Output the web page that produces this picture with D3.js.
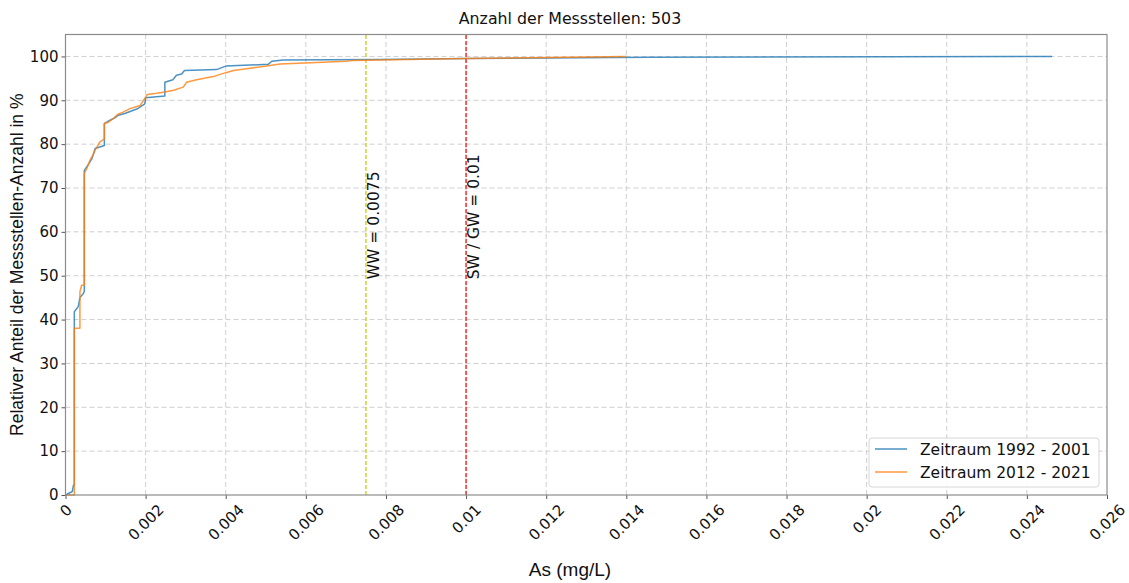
<!DOCTYPE html>
<html>
<head>
<meta charset="utf-8">
<script src="https://cdn.jsdelivr.net/npm/d3@7"></script>
<style>
  body { margin: 0; background: #fff; }
  svg { display: block; }
</style>
</head>
<body>
<div id="chart"></div>
<script>
// series: As concentration (mg/L) vs cumulative share (%)
const blueX = [0, 0.00017, 0.0002, 0.00022, 0.00022, 0.00032, 0.00036, 0.00045, 0.00047, 0.00047,
  0.00058, 0.00066, 0.0007, 0.00074, 0.00097, 0.00097, 0.0011, 0.00123, 0.00132, 0.00148, 0.00178,
  0.00198, 0.002, 0.00248, 0.00248, 0.00268, 0.00277, 0.0029, 0.00297, 0.00377, 0.004, 0.00506,
  0.00515, 0.00543, 0.00785, 0.01, 0.0146, 0.02463];
const blueY = [0, 0.8, 2.3, 2.3, 41.8, 43, 45, 46, 46.5, 74,
  75.5, 76.7, 77.8, 79, 79.7, 84.7, 85.4, 86, 86.6, 87, 88,
  89.2, 90.6, 91.0, 94.1, 94.7, 95.7, 96, 96.8, 97, 97.8, 98.2,
  98.9, 99.2, 99.3, 99.5, 99.8, 100];

const orangeX = [0, 0.00022, 0.00022, 0.00036, 0.00036, 0.0004, 0.00047, 0.00047, 0.00053, 0.00061,
  0.0007, 0.00076, 0.00086, 0.00097, 0.00097, 0.00107, 0.0012, 0.00132, 0.00144, 0.00161,
  0.00186, 0.00198, 0.00204, 0.00228, 0.00248, 0.0027, 0.00294, 0.00302, 0.00327, 0.00369,
  0.004, 0.00419, 0.00452, 0.00506, 0.00536, 0.00702, 0.00718, 0.0078, 0.01, 0.014];
const orangeY = [0, 0, 38, 38, 46.3, 47.8, 47.8, 73.3, 74.4, 76.3,
  77.8, 79, 80.5, 81.2, 84.7, 85, 85.9, 86.9, 87.3, 88.1,
  88.8, 90.4, 91.3, 91.6, 91.9, 92.3, 93, 94.1, 94.7, 95.4,
  96.3, 96.8, 97.2, 97.9, 98.3, 98.9, 99.1, 99.2, 99.5, 100];

const seriesNames = ["Zeitraum 1992 - 2001", "Zeitraum 2012 - 2021"];
const xTicks = [0, 0.002, 0.004, 0.006, 0.008, 0.01, 0.012, 0.014, 0.016, 0.018, 0.02, 0.022, 0.024, 0.026];
const xTickLabels = ["0", "0.002", "0.004", "0.006", "0.008", "0.01", "0.012", "0.014", "0.016", "0.018", "0.02", "0.022", "0.024", "0.026"];
const yTicks = [0, 10, 20, 30, 40, 50, 60, 70, 80, 90, 100];
const limitValues = [0.0075, 0.01];
const limitLabels = ["WW = 0.0075", "SW / GW = 0.01"];

const width = 1129;
const height = 583;
const margin = { top: 34.5, right: 22, bottom: 88, left: 65.5 };
const tickFont = "'DejaVu Sans', sans-serif";

const svg = d3.select("#chart")
  .append("svg")
  .attr("width", width)
  .attr("height", height);

const x = d3.scaleLinear()
  .domain([0, 0.026])
  .range([margin.left, width - margin.right]);

const y = d3.scaleLinear()
  .domain([0, 105])
  .range([height - margin.bottom, margin.top]);

// grid
const grid = svg.append("g")
  .attr("stroke", "#cfcfcf")
  .attr("stroke-width", 1)
  .attr("stroke-dasharray", "5,3");

grid.selectAll(".gx")
  .data(xTicks.slice(1, -1))
  .join("line")
  .attr("x1", d => x(d)).attr("x2", d => x(d))
  .attr("y1", y(0)).attr("y2", y(105));

grid.selectAll(".gy")
  .data(yTicks.slice(1))
  .join("line")
  .attr("x1", x(0)).attr("x2", x(0.026))
  .attr("y1", d => y(d)).attr("y2", d => y(d));

// limit lines
const limitColors = ["#d2d22a", "#f23030"];
svg.selectAll(".limit")
  .data(limitValues)
  .join("line")
  .attr("x1", d => x(d)).attr("x2", d => x(d))
  .attr("y1", y(0)).attr("y2", y(105))
  .attr("stroke", (d, i) => limitColors[i])
  .attr("stroke-width", 1.5)
  .attr("stroke-dasharray", "4,2");

svg.selectAll(".limitLabel")
  .data(limitValues)
  .join("text")
  .attr("transform", d => `translate(${x(d) + 13},${y(50) + 3.5}) rotate(-90)`)
  .attr("font-family", tickFont)
  .attr("font-size", 15.5)
  .attr("fill", "#111")
  .text((d, i) => limitLabels[i]);

// series
const colors = ["#1f77b4", "#ff7f0e"];
const line = d3.line()
  .x(d => x(d[0]))
  .y(d => y(d[1]));

const series = [
  blueX.map((v, i) => [v, blueY[i]]),
  orangeX.map((v, i) => [v, orangeY[i]])
];

svg.selectAll(".series")
  .data(series)
  .join("path")
  .attr("fill", "none")
  .attr("stroke", (d, i) => colors[i])
  .attr("stroke-opacity", 0.8)
  .attr("stroke-width", 1.5)
  .attr("stroke-linejoin", "round")
  .attr("d", line);

// axes
const yAxis = svg.append("g")
  .attr("transform", `translate(${margin.left},0)`)
  .call(d3.axisLeft(y).tickValues(yTicks).tickSize(4).tickPadding(3));

const xAxis = svg.append("g")
  .attr("transform", `translate(0,${y(0)})`)
  .call(d3.axisBottom(x).tickValues(xTicks).tickFormat((d, i) => xTickLabels[i]).tickSize(4).tickPadding(3));

[xAxis, yAxis].forEach(g => {
  g.select(".domain").remove();
  g.selectAll(".tick line").attr("stroke", "#555");
  g.selectAll("text")
    .attr("font-family", tickFont)
    .attr("font-size", 15)
    .attr("fill", "#111");
});

// rotate x labels 45 degrees, centred on the tick
xAxis.selectAll(".tick text").each(function () {
  const t = d3.select(this);
  const w = this.getComputedTextLength();
  const h = (w + 15) * Math.SQRT1_2;
  t.attr("y", null).attr("dy", null)
    .attr("text-anchor", "middle")
    .attr("dominant-baseline", "central")
    .attr("transform", `translate(0,${7 + h / 2}) rotate(-45)`);
});

// frame
svg.append("rect")
  .attr("x", x(0)).attr("y", y(105))
  .attr("width", x(0.026) - x(0))
  .attr("height", y(0) - y(105))
  .attr("fill", "none")
  .attr("stroke", "#8c8c8c")
  .attr("stroke-width", 1.2);

// title and axis labels
svg.append("text")
  .attr("x", 570).attr("y", 24)
  .attr("text-anchor", "middle")
  .attr("font-family", tickFont)
  .attr("font-size", 15.8)
  .attr("fill", "#111")
  .text("Anzahl der Messstellen: 503");

svg.append("text")
  .attr("x", 570).attr("y", 576)
  .attr("text-anchor", "middle")
  .attr("font-family", "'Liberation Sans', Arial, sans-serif")
  .attr("font-size", 19)
  .attr("fill", "#111")
  .text("As (mg/L)");

svg.append("text")
  .attr("transform", `translate(23,${(y(0) + y(105)) / 2}) rotate(-90)`)
  .attr("text-anchor", "middle")
  .attr("font-family", "'Liberation Sans', Arial, sans-serif")
  .attr("font-size", 17.5)
  .attr("fill", "#111")
  .text("Relativer Anteil der Messstellen-Anzahl in %");

// legend
const legend = svg.append("g").attr("transform", "translate(869,438)");
legend.append("rect")
  .attr("width", 230).attr("height", 49)
  .attr("rx", 3)
  .attr("fill", "#fff").attr("fill-opacity", 0.85)
  .attr("stroke", "#d6d6d6");

const items = legend.selectAll(".item")
  .data(seriesNames)
  .join("g")
  .attr("transform", (d, i) => `translate(0,${11 + i * 23})`);

items.append("line")
  .attr("x1", 6).attr("x2", 38)
  .attr("stroke", (d, i) => colors[i])
  .attr("stroke-opacity", 0.8)
  .attr("stroke-width", 1.5);

items.append("text")
  .attr("x", 51).attr("y", 5.5)
  .attr("font-family", tickFont)
  .attr("font-size", 15.5)
  .attr("fill", "#111")
  .text(d => d);
</script>
</body>
</html>
